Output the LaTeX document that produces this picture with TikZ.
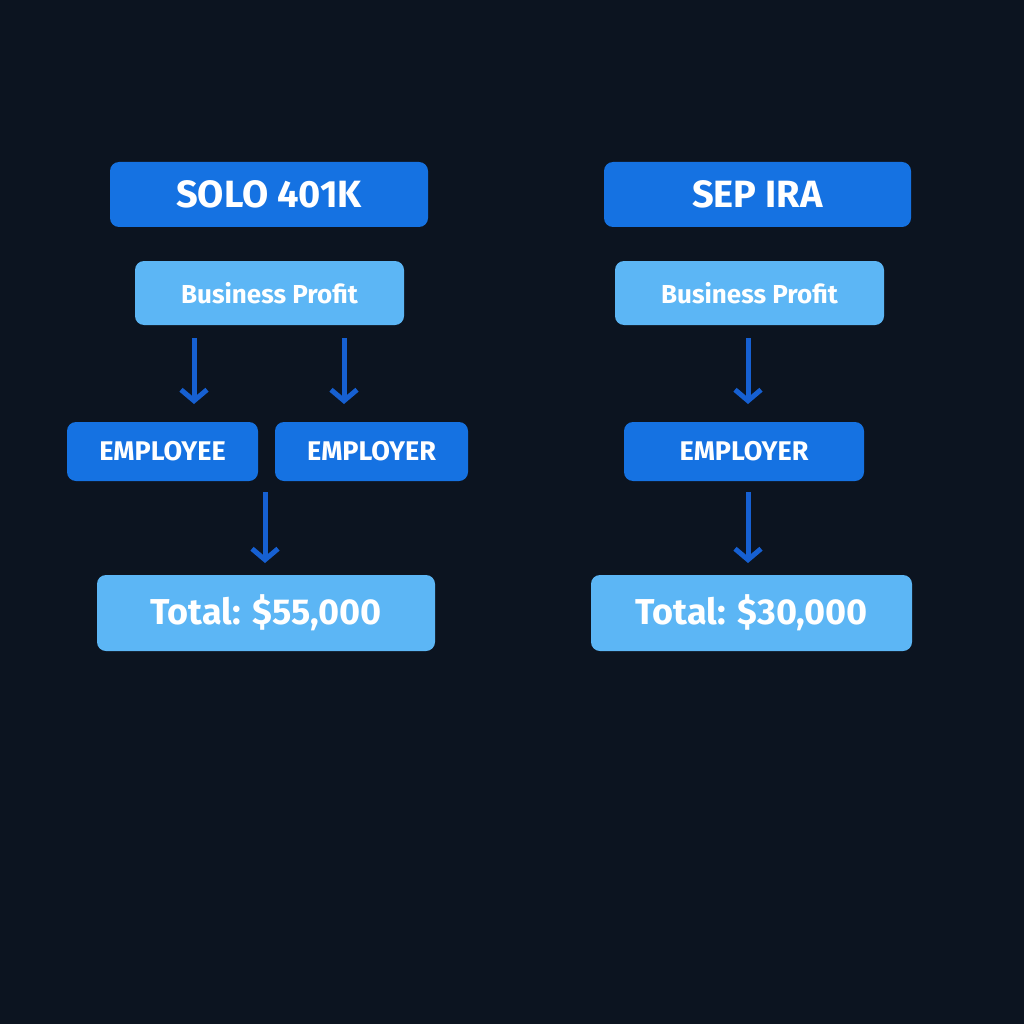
\documentclass[tikz,border=0pt]{standalone}
\usepackage{fontspec}
\setmainfont{Fira Sans}
\usetikzlibrary{arrows.meta}
\definecolor{bg}{HTML}{0C1420}
\definecolor{dk}{HTML}{1572E2}
\definecolor{lt}{HTML}{5CB6F5}
\definecolor{ar}{HTML}{1660D2}
\begin{document}
\begin{tikzpicture}[x=1pt,y=-1pt,
 box/.style={rounded corners=9pt,inner sep=0pt,text=white,font=\bfseries},
 dkb/.style={box,fill=dk},
 ltb/.style={box,fill=lt},
 arr/.style={draw=ar,line width=5pt,-{Straight Barb[length=11pt,width=26pt,line width=5pt]}}]
\fill[bg] (0,0) rectangle (1024,1024);
\useasboundingbox (0,0) rectangle (1024,1024);
\newcommand{\bx}[7]{\node[#1,minimum width=#4-#2,minimum height=#5-#3] (#6) at ({(#2+#4)/2},{(#3+#5)/2}) {#7};}
\bx{dkb}{110}{162}{428}{227}{t1}{\fontsize{38}{38}\selectfont SOLO 401K}
\bx{dkb}{604}{162}{911}{227}{t2}{\fontsize{38}{38}\selectfont SEP IRA}
\bx{ltb}{135}{261}{404}{325}{bp1}{\fontsize{26}{26}\selectfont Business Profit}
\bx{ltb}{615}{261}{884}{325}{bp2}{\fontsize{26}{26}\selectfont Business Profit}
\bx{dkb}{67}{422}{258}{481}{ee}{\fontsize{27}{27}\selectfont EMPLOYEE}
\bx{dkb}{275}{422}{468}{481}{er1}{\fontsize{27}{27}\selectfont EMPLOYER}
\bx{dkb}{624}{422}{864}{481}{er2}{\fontsize{27}{27}\selectfont EMPLOYER}
\bx{ltb}{97}{575}{435}{651}{tot1}{\fontsize{36}{36}\selectfont Total: \$55,000}
\bx{ltb}{591}{575}{912}{651}{tot2}{\fontsize{36}{36}\selectfont Total: \$30,000}
\coordinate (a1s) at (194,338); \coordinate (a1e) at (194,404);
\coordinate (a2s) at (344,338); \coordinate (a2e) at (344,404);
\coordinate (a3s) at (265,492); \coordinate (a3e) at (265,563);
\coordinate (a4s) at (748,338); \coordinate (a4e) at (748,404);
\coordinate (a5s) at (748,492); \coordinate (a5e) at (748,563);
\foreach \i in {1,...,5} \draw[arr] (a\i s) -- (a\i e);
\end{tikzpicture}
\end{document}
